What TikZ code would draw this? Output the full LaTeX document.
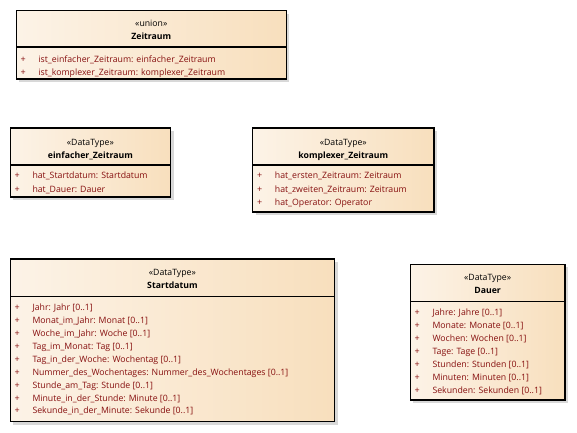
\documentclass[tikz,border=0pt]{standalone}
\usepackage{fontspec}
\setmainfont{Open Sans}
\usetikzlibrary{fit}
\definecolor{attrc}{HTML}{860E0E}
\definecolor{lightc}{HTML}{FCF3E7}
\definecolor{darkc}{HTML}{F8DFBD}
\definecolor{shadc}{HTML}{D8D8D8}
\tikzset{
  cls/.style={draw=black, line width=1.1pt, left color=lightc, right color=darkc, inner sep=0pt},
  divline/.style={draw=black, line width=1.1pt},
  shadowfill/.style={fill=shadc},
  stereo/.style={font=\fontsize{8.7}{10}\selectfont, text=black, anchor=base, inner sep=0pt},
  cname/.style={font=\fontsize{8.7}{10}\selectfont\bfseries, text=black, anchor=base, inner sep=0pt},
  plussign/.style={font=\fontsize{9}{10}\selectfont, text=attrc, anchor=base, inner sep=0pt},
  attrtext/.style={font=\fontsize{8.75}{10}\selectfont, text=attrc, anchor=base west, inner sep=0pt},
}
\newcommand\clsbox[6]{%
  \fill[shadowfill] (#2+3,#3+3) rectangle (#4+3,#5+3);
  \node[cls, fit={(#2,#3) (#4,#5)}] (#1) {};
  \draw[divline] (#2,#6) -- (#4,#6);
}
\newcommand\attrline[4]{% name, left x, baseline y, text
  \node[plussign] (#1-p) at (#2+7,#3) {+};
  \node[attrtext] (#1) at (#2+22,#3) {#4};
}
\begin{document}
\begin{tikzpicture}[x=1pt,y=-1pt]
\useasboundingbox[fill=white] (0,0) rectangle (577,432);

% Zeitraum
\clsbox{zr}{16.3}{10.7}{286.3}{79}{47}
\node[stereo] (zr-s) at (151.3,26) {«union»};
\node[cname] (zr-n) at (151.3,39) {Zeitraum};
\attrline{zr-a1}{16.3}{62}{ist\_einfacher\_Zeitraum: einfacher\_Zeitraum}
\attrline{zr-a2}{16.3}{75}{ist\_komplexer\_Zeitraum: komplexer\_Zeitraum}

% einfacher_Zeitraum
\clsbox{ez}{10.3}{128}{170.5}{197}{165}
\node[stereo] (ez-s) at (90.4,145) {«DataType»};
\node[cname] (ez-n) at (90.4,158) {einfacher\_Zeitraum};
\attrline{ez-a1}{10.3}{178.5}{hat\_Startdatum: Startdatum}
\attrline{ez-a2}{10.3}{192}{hat\_Dauer: Dauer}

% komplexer_Zeitraum
\clsbox{kz}{252.7}{128}{434}{212}{165}
\node[stereo] (kz-s) at (343.3,145) {«DataType»};
\node[cname] (kz-n) at (343.3,158) {komplexer\_Zeitraum};
\attrline{kz-a1}{252.7}{178.5}{hat\_ersten\_Zeitraum: Zeitraum}
\attrline{kz-a2}{252.7}{192}{hat\_zweiten\_Zeitraum: Zeitraum}
\attrline{kz-a3}{252.7}{205}{hat\_Operator: Operator}

% Startdatum
\clsbox{sd}{10.3}{259}{334.5}{421.5}{296.3}
\node[stereo] (sd-s) at (172.4,275) {«DataType»};
\node[cname] (sd-n) at (172.4,288.5) {Startdatum};
\attrline{sd-a1}{10.3}{310.8}{Jahr: Jahr [0..1]}
\attrline{sd-a2}{10.3}{323.7}{Monat\_im\_Jahr: Monat [0..1]}
\attrline{sd-a3}{10.3}{336.6}{Woche\_im\_Jahr: Woche [0..1]}
\attrline{sd-a4}{10.3}{349.4}{Tag\_im\_Monat: Tag [0..1]}
\attrline{sd-a5}{10.3}{362.3}{Tag\_in\_der\_Woche: Wochentag [0..1]}
\attrline{sd-a6}{10.3}{375.2}{Nummer\_des\_Wochentages: Nummer\_des\_Wochentages [0..1]}
\attrline{sd-a7}{10.3}{388.1}{Stunde\_am\_Tag: Stunde [0..1]}
\attrline{sd-a8}{10.3}{401}{Minute\_in\_der\_Stunde: Minute [0..1]}
\attrline{sd-a9}{10.3}{413.8}{Sekunde\_in\_der\_Minute: Sekunde [0..1]}

% Dauer
\clsbox{da}{410.3}{264.3}{565}{400}{301.3}
\node[stereo] (da-s) at (487.6,280) {«DataType»};
\node[cname] (da-n) at (487.6,293.5) {Dauer};
\attrline{da-a1}{410.3}{315.8}{Jahre: Jahre [0..1]}
\attrline{da-a2}{410.3}{328.8}{Monate: Monate [0..1]}
\attrline{da-a3}{410.3}{341.8}{Wochen: Wochen [0..1]}
\attrline{da-a4}{410.3}{354.7}{Tage: Tage [0..1]}
\attrline{da-a5}{410.3}{367.7}{Stunden: Stunden [0..1]}
\attrline{da-a6}{410.3}{380.7}{Minuten: Minuten [0..1]}
\attrline{da-a7}{410.3}{393.6}{Sekunden: Sekunden [0..1]}
\end{tikzpicture}
\end{document}
